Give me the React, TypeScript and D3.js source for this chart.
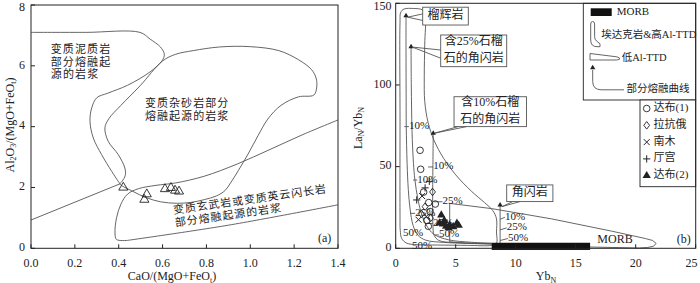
import * as d3 from 'd3'

type Pt = [number, number]

const SERIF = "'Liberation Serif', 'Noto Sans CJK SC', serif"
const INK = '#222'
const CURVE = '#555'

// ---------- (a) CaO/(MgO+FeOt) – Al2O3/(MgO+FeOt) ----------
const A_X_TICKS = [0, 0.2, 0.4, 0.6, 0.8, 1.0, 1.2, 1.4]
const A_Y_TICKS = [0, 2, 4, 6, 8]

const PELITE_EDGE: Pt[] = [
  [0, 7.1], [0.25, 7.1], [0.497, 7.1], [0.543, 6.88], [0.59, 6.62], [0.608, 6.38],
  [0.598, 6.17], [0.543, 5.8], [0.44, 5.36], [0.35, 5.1], [0.3, 4.95], [0.277, 4.62],
  [0.269, 4.18], [0.284, 3.63], [0.322, 3.08], [0.368, 2.53], [0.398, 2.2], [0.406, 2.12],
]
const PELITE_BASE: Pt[] = [[0.406, 2.12], [0, 0.93]]

const GREYWACKE_EDGE: Pt[] = [
  [0.406, 2.12], [0.465, 1.87], [0.528, 1.66], [0.59, 1.53], [0.664, 1.48], [0.73, 1.51],
  [0.79, 1.6], [0.845, 1.72], [0.885, 1.9], [0.91, 2.15], [0.945, 2.55], [0.99, 3.1],
  [1.035, 3.7], [1.08, 4.25], [1.14, 4.7], [1.22, 4.98], [1.29, 5.04], [1.303, 5.3],
  [1.3, 5.6], [1.28, 5.87], [1.22, 6.2], [1.13, 6.5], [1.0, 6.63], [0.86, 6.62],
  [0.74, 6.5], [0.66, 6.38], [0.6, 6.16], [0.497, 5.34], [0.41, 4.7], [0.355, 4.26],
  [0.337, 3.96], [0.352, 3.52], [0.398, 3.08], [0.428, 2.64], [0.43, 2.4], [0.415, 2.2],
]

const BASALT_EDGE: Pt[] = [
  [1.4, 4.22], [1.24, 3.74], [1.09, 3.25], [0.94, 2.77], [0.79, 2.37], [0.66, 2.15],
  [0.57, 2.07], [0.49, 1.96], [0.44, 1.78], [0.41, 1.45], [0.39, 1.0], [0.383, 0.5],
  [0.39, 0.29], [0.44, 0.26],
]
const BASALT_BASE: Pt[] = [[0.44, 0.26], [0.9, 0.76], [1.4, 1.43]]

const SAMPLES_A: Pt[] = [
  [0.421, 2.0], [0.528, 1.78], [0.517, 1.6], [0.611, 1.95], [0.638, 1.99], [0.657, 1.9], [0.675, 1.87],
]

// ---------- (b) YbN – LaN/YbN ----------
const B_X_TICKS = [0, 5, 10, 15, 20, 25]
const B_Y_TICKS = [0, 50, 100, 150]

const ADAKITE_EDGE: Pt[] = [
  [0.36, 20], [0.36, 80], [0.36, 138], [0.42, 144.5], [0.7, 146.5], [1.5, 146.8], [2.2, 146],
  [2.45, 142], [2.42, 125], [2.38, 105], [2.42, 90], [2.7, 77], [3.2, 66], [4.0, 55],
  [5.0, 45], [6.3, 35], [7.4, 28], [8.1, 23], [8.4, 18], [8.4, 10], [8.4, 3], [8.0, 1.8],
  [6, 1.8], [3.5, 2.0], [1.8, 2.2], [0.9, 3.2], [0.5, 6], [0.38, 11],
]

const LOW_AL_TTD_EDGE: Pt[] = [
  [4.5, 27.5], [8, 24.3], [13, 18], [18, 10.5], [20.8, 6], [21.4, 4.8], [21.7, 3],
  [21.5, 1.3], [21, 0.5], [20.3, 0.2], [16, 0.8], [10, 2], [6, 3], [4.5, 4],
]

const MORB_YB: Pt = [8, 16.2]
const MORB_RATIO: Pt = [-1, 3.4]

const MELT_ECLOGITE: Pt[] = [
  [0.86, 142.4], [0.86, 120], [0.87, 95], [0.88, 74.5], [0.95, 52], [1.05, 36], [1.2, 24],
  [1.45, 14], [1.85, 8], [2.5, 5], [4, 3.6], [6, 3.1], [8, 2.8],
]
const MELT_GRT25: Pt[] = [
  [1.28, 123.4], [1.3, 100], [1.36, 72], [1.48, 52], [1.6, 42], [1.85, 30], [2.2, 20],
  [2.6, 13.6], [3.2, 8.5], [4.4, 5.2], [6.3, 3.7], [8, 3.1],
]
const MELT_GRT10: Pt[] = [
  [3.13, 70.4], [3.1, 50], [3.08, 28.5], [3.1, 15], [3.2, 8], [3.6, 4.8], [5, 3.5], [8, 3],
]
const MELT_AMPH: Pt[] = [[8.7, 26.5], [8.7, 2.5]]

// melting degree marks: tick from x0 to x1 at y, label starting at x1
const MELT_MARKS: { text: string; x0: number; x1: number; y: number }[] = [
  { text: '10%', x0: 0.72, x1: 1.1, y: 74.5 },
  { text: '10%', x0: 2.7, x1: 3.12, y: 49.8 },
  { text: '10%', x0: 1.45, x1: 1.8, y: 41.8 },
  { text: '25%', x0: 3.2, x1: 3.9, y: 28.5 },
  { text: '25%', x0: 1.2, x1: 1.62, y: 21.4 },
  { text: '25%', x0: 2.65, x1: 3.1, y: 15.2 },
  { text: '50%', x0: 0.6, x1: 0.6, y: 9.2 },
  { text: '50%', x0: 3.3, x1: 3.6, y: 8.2 },
  { text: '50%', x0: 1.36, x1: 1.36, y: 1.4 },
  { text: '10%', x0: 8.7, x1: 9.1, y: 19 },
  { text: '25%', x0: 8.7, x1: 9.25, y: 12.5 },
  { text: '50%', x0: 8.7, x1: 9.35, y: 6 },
]

const MELT_ORIGINS: Pt[] = [[0.86, 142.4], [1.28, 123.4], [3.13, 70.4], [8.7, 26.5]]

// callouts: box [x0, x1, yTop, yBottom], text lines, pointer apex and two base points
const CALLOUTS: { box: [number, number, number, number]; lines: string[]; apex: Pt; base: [Pt, Pt] }[] = [
  { box: [2.25, 6.05, 147.6, 136.7], lines: ['榴辉岩'], apex: [1.0, 141.5], base: [[2.25, 143.5], [2.25, 139.5]] },
  { box: [3.75, 9.25, 130.6, 111.2], lines: ['含25%石榴', '石的角闪岩'], apex: [1.38, 123.2], base: [[3.75, 121.4], [3.75, 116.4]] },
  { box: [4.86, 10.9, 92.8, 74.5], lines: ['含10%石榴', '石的角闪岩'], apex: [3.25, 70.5], base: [[5.2, 74.5], [5.9, 74.5]] },
  { box: [9.25, 13.1, 38.8, 28.6], lines: ['角闪岩'], apex: [8.85, 25.5], base: [[9.75, 28.6], [10.35, 28.6]] },
]

const DABU1: Pt[] = [[2.03, 60], [2.08, 48.4], [2.33, 34.4], [2.75, 28], [3.3, 27.1], [2.86, 22.5], [2.6, 17], [2.72, 13.5]]
const LAKANGE: Pt[] = [[3.07, 34.5], [2.45, 25.5], [2.9, 18.5], [2.15, 21]]
const NANMU: Pt[] = [[2.2, 32], [1.9, 17.5], [2.55, 19.5]]
const TINGGONG: Pt[] = [[2.8, 41], [1.75, 29.6], [2.45, 37]]
const DABU2: Pt[] = [
  [3.8, 20.4], [4.05, 17], [3.65, 15.5], [4.2, 13.5], [4.5, 14.3], [4.8, 13.2], [5.1, 15.3],
  [5.25, 14], [4.4, 12.5], [3.95, 14.8],
]

const LEGEND_SAMPLES = ['达布(1)', '拉抗俄', '南木', '厅宫', '达布(2)']

// marker glyphs
const CIRCLE = 'M3.3,0A3.3,3.3 0 1,1 -3.3,0A3.3,3.3 0 1,1 3.3,0Z'
const DIAMOND = 'M0,-3.8L2.9,0L0,3.8L-2.9,0Z'
const CROSS = 'M-3,-3L3,3M-3,3L3,-3'
const PLUS = 'M-3.6,0H3.6M0,-3.6V3.6'
const TRI = d3.symbol(d3.symbolTriangle, 30)() as string
const TRI_SMALL = d3.symbol(d3.symbolTriangle, 12)() as string
const TRI_HOLLOW = d3.symbol(d3.symbolTriangle, 36)() as string

function Sub({ children }: { children: string }) {
  return <tspan fontSize={8} dy={2.5}>{children}</tspan>
}

function PanelA() {
  const x = d3.scaleLinear().domain([0, 1.4]).range([31, 338])
  const y = d3.scaleLinear().domain([0, 8]).range([248.3, 5])
  const smooth = d3.line<Pt>().x(d => x(d[0])).y(d => y(d[1])).curve(d3.curveCatmullRom.alpha(0.5))
  const closed = d3.line<Pt>().x(d => x(d[0])).y(d => y(d[1])).curve(d3.curveCatmullRomClosed.alpha(0.5))
  const straight = d3.line<Pt>().x(d => x(d[0])).y(d => y(d[1]))
  const fs = 12
  const lab = 11

  return (
    <g fontFamily={SERIF} fill={INK}>
      <g fill="none" stroke={CURVE} strokeWidth={0.9}>
        <path d={smooth(PELITE_EDGE) ?? ''} />
        <path d={straight(PELITE_BASE) ?? ''} />
        <path d={closed(GREYWACKE_EDGE) ?? ''} />
        <path d={smooth(BASALT_EDGE) ?? ''} />
        <path d={smooth(BASALT_BASE) ?? ''} />
      </g>

      {SAMPLES_A.map((d, i) => (
        <path key={i} d={TRI_HOLLOW} transform={`translate(${x(d[0])},${y(d[1])})`}
          fill="none" stroke={INK} strokeWidth={0.9} />
      ))}

      <g fontSize={lab}>
        {['变质泥质岩', '部分熔融起', '源的岩浆'].map((t, i) => (
          <text key={t} x={x(0.09)} y={y(6.5 - i * 0.41)} dominantBaseline="middle" textLength={lab * t.length * 1.08}>{t}</text>
        ))}
        {['变质杂砂岩部分', '熔融起源的岩浆'].map((t, i) => (
          <text key={t} x={x(0.52)} y={y(4.73 - i * 0.42)} dominantBaseline="middle" textLength={lab * t.length * 1.08}>{t}</text>
        ))}
        <text x={x(0.649)} y={y(1.21)} dominantBaseline="middle" textLength={154}
          transform={`rotate(-8,${x(0.649)},${y(1.21)})`}>变质玄武岩或变质英云闪长岩</text>
        <text x={x(0.657)} y={y(0.8)} dominantBaseline="middle" textLength={107}
          transform={`rotate(-8,${x(0.657)},${y(0.8)})`}>部分熔融起源的岩浆</text>
      </g>
      <text x={x(1.309)} y={y(0.3)} dominantBaseline="middle" fontSize={fs}>(a)</text>

      <rect x={31} y={5} width={307} height={243.3} fill="none" stroke={INK} strokeWidth={1} />
      {A_X_TICKS.map(t => (
        <g key={t}>
          <line x1={x(t)} x2={x(t)} y1={248.3} y2={244.3} stroke={INK} />
          <text x={x(t)} y={267} textAnchor="middle" fontSize={fs}>{t.toFixed(1)}</text>
        </g>
      ))}
      {A_Y_TICKS.map(t => (
        <g key={t}>
          <line x1={31} x2={35} y1={y(t)} y2={y(t)} stroke={INK} />
          <text x={25} y={Math.max(y(t), 8)} textAnchor="end" dominantBaseline="middle" fontSize={fs}>{t}</text>
        </g>
      ))}
      <text x={172} y={280} textAnchor="middle" fontSize={fs}>
        CaO/(MgO+FeO<Sub>t</Sub><tspan dy={-2.5}>)</tspan>
      </text>
      <text transform="translate(11,125) rotate(-90)" textAnchor="middle" dominantBaseline="middle" fontSize={fs}>
        Al<Sub>2</Sub><tspan dy={-2.5}>O</tspan><Sub>3</Sub><tspan dy={-2.5}>/(MgO+FeO</tspan><Sub>t</Sub><tspan dy={-2.5}>)</tspan>
      </text>
    </g>
  )
}

function PanelB() {
  const x = d3.scaleLinear().domain([0, 25]).range([395.7, 695.7])
  const y = d3.scaleLinear().domain([0, 150]).range([248.3, 3.3])
  const smooth = d3.line<Pt>().x(d => x(d[0])).y(d => y(d[1])).curve(d3.curveCatmullRom.alpha(0.5))
  const closed = d3.line<Pt>().x(d => x(d[0])).y(d => y(d[1])).curve(d3.curveCatmullRomClosed.alpha(0.5))
  const straight = d3.line<Pt>().x(d => x(d[0])).y(d => y(d[1]))
  const lowAl = d3.line<Pt>().x(d => x(d[0])).y(d => y(d[1])).curve(d3.curveLinearClosed)
  const fs = 12
  const at = (d: Pt) => `translate(${x(d[0])},${y(d[1])})`

  const L1 = { x0: 583.3, y0: 3.3, x1: 695.7, y1: 100 }
  const L2 = { x0: 640, y0: 100, x1: 695.7, y1: 186.7 }
  const rowY = (i: number) => 108.5 + i * 16.8
  const legendGlyph = [
    <path d={CIRCLE} fill="none" stroke={INK} strokeWidth={0.9} />,
    <path d={DIAMOND} fill="none" stroke={INK} strokeWidth={0.9} />,
    <path d={CROSS} fill="none" stroke={INK} strokeWidth={1} />,
    <path d={PLUS} fill="none" stroke={INK} strokeWidth={1} />,
    <path d={TRI} fill={INK} />,
  ]

  return (
    <g fontFamily={SERIF} fill={INK}>
      <g fill="none" stroke={CURVE} strokeWidth={0.9}>
        <path d={closed(ADAKITE_EDGE) ?? ''} />
        <path d={lowAl(LOW_AL_TTD_EDGE) ?? ''} />
        <path d={smooth(MELT_ECLOGITE) ?? ''} />
        <path d={smooth(MELT_GRT25) ?? ''} />
        <path d={smooth(MELT_GRT10) ?? ''} />
        <path d={straight(MELT_AMPH) ?? ''} />
        {MELT_MARKS.filter(m => m.x1 > m.x0).map((m, i) => (
          <line key={i} x1={x(m.x0)} x2={x(m.x1)} y1={y(m.y) + (m.x0 === 8.7 ? 2 : 0)} y2={y(m.y)} />
        ))}
      </g>

      <rect x={x(MORB_YB[0])} y={y(MORB_RATIO[1])} width={x(MORB_YB[1]) - x(MORB_YB[0])}
        height={y(MORB_RATIO[0]) - y(MORB_RATIO[1])} fill="#111" />
      <text x={x(16.8)} y={y(5.2)} fontSize={fs} dominantBaseline="middle">MORB</text>

      {MELT_MARKS.map((m, i) => (
        <text key={i} x={x(m.x1)} y={y(m.y)} fontSize={11} dominantBaseline="middle">{m.text}</text>
      ))}
      {MELT_ORIGINS.map((d, i) => <path key={i} d={TRI_SMALL} transform={at(d)} fill={INK} />)}

      {CALLOUTS.map((c, i) => {
        const [bx0, bx1, byT, byB] = c.box
        const cx = (x(bx0) + x(bx1)) / 2
        const cy = (y(byT) + y(byB)) / 2
        const lh = 16.5
        return (
          <g key={i}>
            <rect x={x(bx0)} y={y(byT)} width={x(bx1) - x(bx0)} height={y(byB) - y(byT)}
              fill="white" stroke={CURVE} strokeWidth={0.9} />
            <polyline points={`${x(c.base[0][0])},${y(c.base[0][1])} ${x(c.apex[0])},${y(c.apex[1])} ${x(c.base[1][0])},${y(c.base[1][1])}`}
              fill="none" stroke={CURVE} strokeWidth={0.9} />
            {c.lines.map((t, j) => (
              <text key={t} x={cx} y={cy + (j - (c.lines.length - 1) / 2) * lh} textAnchor="middle"
                dominantBaseline="middle" fontSize={fs}>{t}</text>
            ))}
          </g>
        )
      })}

      {DABU1.map((d, i) => <path key={`a${i}`} d={CIRCLE} transform={at(d)} fill="none" stroke={INK} strokeWidth={0.9} />)}
      {LAKANGE.map((d, i) => <path key={`b${i}`} d={DIAMOND} transform={at(d)} fill="none" stroke={INK} strokeWidth={0.9} />)}
      {NANMU.map((d, i) => <path key={`c${i}`} d={CROSS} transform={at(d)} fill="none" stroke={INK} strokeWidth={1} />)}
      {TINGGONG.map((d, i) => <path key={`d${i}`} d={PLUS} transform={at(d)} fill="none" stroke={INK} strokeWidth={1} />)}
      {DABU2.map((d, i) => <path key={`e${i}`} d={TRI} transform={at(d)} fill={INK} />)}

      <text x={x(24)} y={y(5)} fontSize={fs} textAnchor="middle" dominantBaseline="middle">(b)</text>

      {/* legend: fields */}
      <rect x={L1.x0} y={L1.y0} width={L1.x1 - L1.x0} height={L1.y1 - L1.y0} fill="white" stroke={INK} strokeWidth={0.9} />
      <rect x={590.7} y={8.3} width={21} height={7.7} fill="#111" />
      <text x={616.7} y={12.4} fontSize={11} dominantBaseline="middle">MORB</text>
      <path d="M590.7,24 V40 Q590.7,46.7 597,46.7 H600 V43.8 L596.5,41 Q594.6,39.5 594.6,36.5 V24 Q594.6,21.5 592.65,21.5 Q590.7,21.5 590.7,24 Z"
        fill="none" stroke={CURVE} strokeWidth={0.9} />
      <text x={601.2} y={35.2} fontSize={10.5} dominantBaseline="middle">埃达克岩&amp;高Al-TTD</text>
      <path d="M590,53.5 V60 H616.5 Q620.5,60 619.5,58 Q618.5,57 615,56.6 Z" fill="none" stroke={CURVE} strokeWidth={0.9} />
      <text x={621.7} y={58.8} fontSize={10.5} dominantBaseline="middle">低Al-TTD</text>
      <path d={TRI_SMALL} transform="translate(592.7,67.7)" fill={INK} />
      <path d="M592.7,70 V81.5 Q592.7,89.5 601,89.8 H624" fill="none" stroke={CURVE} strokeWidth={0.9} />
      <text x={626.5} y={90} fontSize={10.5} dominantBaseline="middle">部分熔融曲线</text>

      {/* legend: samples */}
      <rect x={L2.x0} y={L2.y0} width={L2.x1 - L2.x0} height={L2.y1 - L2.y0} fill="white" stroke={INK} strokeWidth={0.9} />
      {LEGEND_SAMPLES.map((t, i) => (
        <g key={t}>
          <g transform={`translate(646.7,${rowY(i)})`}>{legendGlyph[i]}</g>
          <text x={653.5} y={rowY(i)} fontSize={11} dominantBaseline="middle">{t}</text>
        </g>
      ))}

      <rect x={395.7} y={3.3} width={300} height={245} fill="none" stroke={INK} strokeWidth={1} />
      {B_X_TICKS.map(t => (
        <g key={t}>
          <line x1={x(t)} x2={x(t)} y1={248.3} y2={244.3} stroke={INK} />
          <text x={Math.min(x(t), 691.5)} y={267} textAnchor="middle" fontSize={fs}>{t}</text>
        </g>
      ))}
      {B_Y_TICKS.map(t => (
        <g key={t}>
          <line x1={395.7} x2={399.7} y1={y(t)} y2={y(t)} stroke={INK} />
          <text x={391.5} y={Math.max(y(t), 7)} textAnchor="end" dominantBaseline="middle" fontSize={fs}>{t}</text>
        </g>
      ))}
      <text x={546} y={280} textAnchor="middle" fontSize={fs}>Yb<Sub>N</Sub></text>
      <text transform="translate(359,128) rotate(-90)" textAnchor="middle" dominantBaseline="middle" fontSize={fs}>
        La<Sub>N</Sub><tspan dy={-2.5}>/Yb</tspan><Sub>N</Sub>
      </text>
    </g>
  )
}

export default function App() {
  return (
    <svg width={700} height={283} style={{ position: 'absolute', left: 0, top: 0, background: 'white' }}>
      <rect width={700} height={283} fill="white" />
      <PanelA />
      <PanelB />
    </svg>
  )
}
